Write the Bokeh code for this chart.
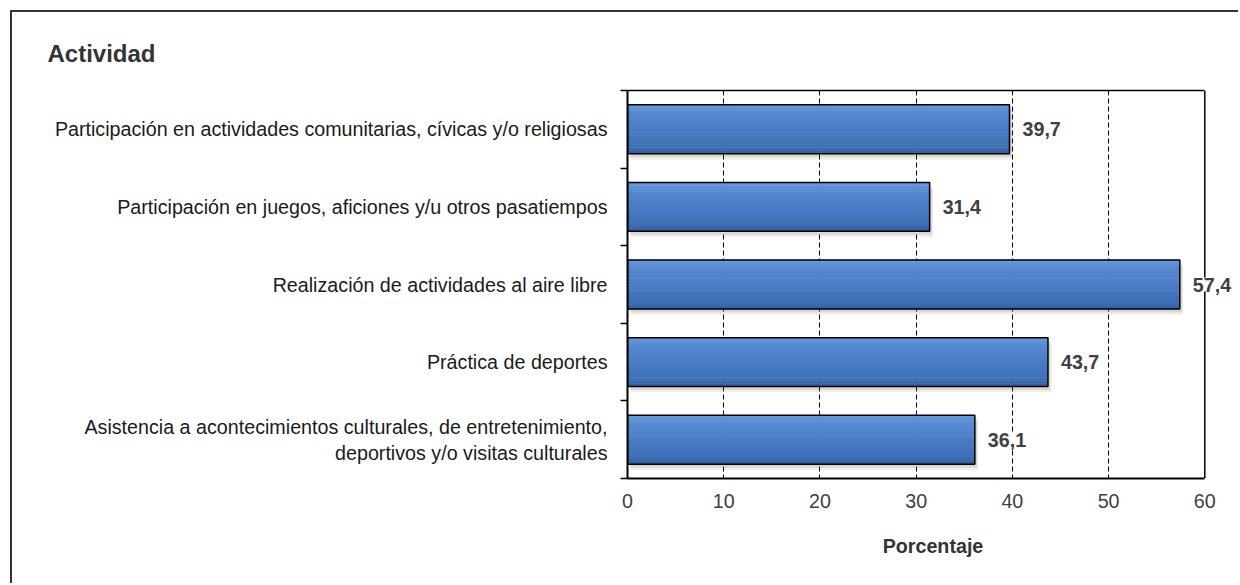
from bokeh.plotting import figure
from bokeh.models import (ColumnDataSource, Range1d, FixedTicker, LabelSet, LinearAxis, Span)
from bokeh.core.properties import value
from bokeh.embed import file_html
from bokeh.resources import INLINE

# ---- data ----
categories = [
    "Participación en actividades comunitarias, cívicas y/o religiosas",
    "Participación en juegos, aficiones y/u otros pasatiempos",
    "Realización de actividades al aire libre",
    "Práctica de deportes",
    "Asistencia a acontecimientos culturales, de entretenimiento,\ndeportivos y/o visitas culturales",
]
values = [39.7, 31.4, 57.4, 43.7, 36.1]
x_ticks = [0, 10, 20, 30, 40, 50, 60]
x_max = 60
title_text = "Actividad"
x_label = "Porcentaje"

# ---- derived ----
n = len(categories)
pos = [i + 1 for i in range(n)]
boundaries = [i + 0.5 for i in range(n + 1)]
labels = [f"{v:.1f}".replace(".", ",") for v in values]
BAR_H = 0.63
FONT = "Liberation Sans"
LBL_SIZE = "19.7px"

src = ColumnDataSource(dict(pos=pos, values=values, labels=labels))

FRAME_LEFT = 615
p = figure(
    width=1228, height=573,
    x_range=Range1d(0, x_max + 3.5), y_range=Range1d(n + 0.5, 0.5),
    output_backend="svg", toolbar_location=None,
    min_border_left=FRAME_LEFT, min_border_right=2, min_border_top=78, min_border_bottom=107,
)
p.styles = {"margin-left": "10px", "margin-top": "10px",
            "border-left": "2px solid #333333", "border-top": "2px solid #333333"}
p.background_fill_color = "white"
p.border_fill_color = "white"
p.outline_line_color = None

# title
p.title.text = title_text
p.title.align = "left"
p.title.offset = 35 - FRAME_LEFT
p.title.standoff = 48
p.title.text_font = FONT
p.title.text_font_size = "24px"
p.title.text_font_style = "bold"
p.title.text_color = "#333333"

# shadows
sh1 = dict(pos=[y + 0.045 for y in pos], right=[v + 0.25 for v in values], left=[0.25] * n)
p.hbar(y="pos", height=BAR_H, left="left", right="right", source=ColumnDataSource(sh1),
       fill_color="#6e5e50", fill_alpha=0.16, line_color=None)
sh2 = dict(pos=[y + 0.075 for y in pos], right=[v + 0.35 for v in values], left=[0.35] * n)
p.hbar(y="pos", height=BAR_H, left="left", right="right", source=ColumnDataSource(sh2),
       fill_color="#6e5e50", fill_alpha=0.10, line_color=None)

# gradient bars (vertical gradient, light top -> dark bottom)
stops = [(0.0, (0x6a, 0x9a, 0xde)), (0.18, (0x55, 0x88, 0xd0)), (0.5, (0x49, 0x7c, 0xc4)),
         (0.85, (0x3e, 0x70, 0xb6)), (1.0, (0x33, 0x60, 0xa0))]

def interp(t):
    for (t0, c0), (t1, c1) in zip(stops[:-1], stops[1:]):
        if t0 <= t <= t1:
            f = (t - t0) / (t1 - t0)
            return "#%02x%02x%02x" % tuple(int(round(a + (b - a) * f)) for a, b in zip(c0, c1))
    return "#%02x%02x%02x" % stops[-1][1]

NS = 16
for k in range(NS):
    t = (k + 0.5) / NS
    ys = [y - BAR_H / 2 + t * BAR_H for y in pos]
    p.hbar(y=ys, height=BAR_H / NS * 1.15, left=0, right=values,
           fill_color=interp(t), line_color=None)

# bar outline
p.hbar(y="pos", height=BAR_H, left=0, right="values", source=src,
       fill_alpha=0, line_color="black", line_width=1.5)

# right edge of the plot box at x_max
p.add_layout(Span(location=x_max, dimension="height", line_color="black", line_width=1.5))

# value labels
p.add_layout(LabelSet(x="values", y="pos", text="labels", source=src,
                      x_offset=13, text_baseline="middle", text_align="left",
                      text_font=value(FONT), text_font_size=value(LBL_SIZE),
                      text_font_style="bold",
                      text_color="#404040", background_fill_color="white"))

# grid
p.ygrid.grid_line_color = None
p.xgrid.ticker = FixedTicker(ticks=[t for t in x_ticks if 0 < t < x_max])
p.xgrid.grid_line_color = "black"
p.xgrid.grid_line_dash = "5 3"
p.xgrid.grid_line_width = 1

# x axis
xa = p.xaxis[0]
xa.ticker = FixedTicker(ticks=x_ticks)
xa.bounds = (0, x_max)
xa.major_tick_out = 0
xa.major_tick_in = 0
xa.minor_tick_line_color = None
xa.axis_line_color = "black"
xa.axis_line_width = 2
xa.major_label_standoff = 15
xa.major_label_text_font = FONT
xa.major_label_text_font_size = LBL_SIZE
xa.major_label_text_color = "#404040"
xa.axis_label = x_label
xa.axis_label_text_font = FONT
xa.axis_label_text_font_size = LBL_SIZE
xa.axis_label_text_font_style = "bold"
xa.axis_label_text_color = "#333333"
xa.axis_label_standoff = 24

# top edge of the plot box
top = LinearAxis(ticker=FixedTicker(ticks=[]), bounds=(0, x_max),
                 major_tick_out=0, major_tick_in=0, minor_tick_line_color=None,
                 major_label_text_font_size="0px", axis_line_color="black",
                 axis_line_width=1.5)
p.add_layout(top, "above")

# y axis
ya = p.yaxis[0]
ya.ticker = FixedTicker(ticks=pos, minor_ticks=boundaries)
ya.major_label_overrides = {y: c for y, c in zip(pos, categories)}
ya.major_tick_out = 0
ya.major_tick_in = 0
ya.minor_tick_out = 7
ya.minor_tick_in = 0
ya.minor_tick_line_color = "black"
ya.minor_tick_line_width = 1.5
ya.axis_line_color = "black"
ya.axis_line_width = 2
ya.major_label_standoff = 13
ya.major_label_text_font = FONT
ya.major_label_text_font_size = LBL_SIZE
ya.major_label_text_color = "#1a1a1a"

open("out.html", "w").write(file_html(p, INLINE))
